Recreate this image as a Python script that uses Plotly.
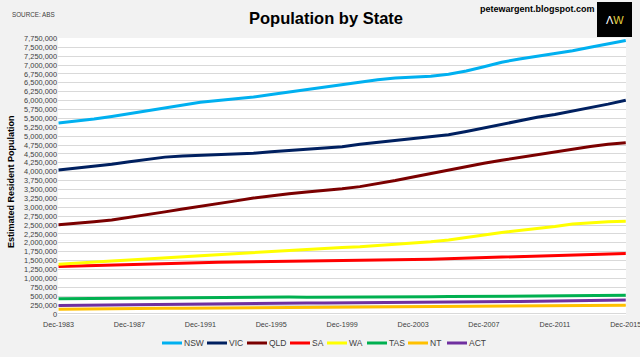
import plotly.graph_objects as go

years = list(range(1983, 2016))
dates = [f"{y}-12-01" for y in years]

nsw = [5372, 5420, 5480, 5550, 5630, 5720, 5810, 5890, 5955, 6000, 6045, 6100, 6170, 6240, 6310, 6375, 6440,
       6510, 6585, 6635, 6660, 6685, 6740, 6830, 6950, 7080, 7170, 7240, 7320, 7400, 7500, 7600, 7690]
vic = [4050, 4100, 4150, 4210, 4280, 4350, 4410, 4445, 4465, 4475, 4495, 4520, 4560, 4590, 4630, 4660, 4700,
       4770, 4820, 4880, 4920, 4970, 5040, 5130, 5230, 5350, 5450, 5530, 5610, 5700, 5800, 5900, 6010]
qld = [2505, 2540, 2590, 2640, 2710, 2790, 2870, 2950, 3020, 3100, 3180, 3260, 3330, 3380, 3430, 3470, 3520,
       3580, 3660, 3750, 3850, 3950, 4050, 4150, 4240, 4320, 4400, 4470, 4550, 4630, 4710, 4770, 4815]
sa = [1336, 1350, 1370, 1385, 1400, 1410, 1425, 1440, 1450, 1455, 1460, 1465, 1470, 1475, 1480, 1488, 1495,
      1505, 1512, 1520, 1530, 1540, 1555, 1570, 1590, 1610, 1630, 1645, 1660, 1672, 1682, 1692, 1702]
wa = [1395, 1420, 1450, 1490, 1520, 1550, 1590, 1620, 1650, 1680, 1700, 1730, 1760, 1790, 1820, 1850, 1870,
      1890, 1920, 1950, 1990, 2030, 2080, 2140, 2220, 2290, 2340, 2390, 2460, 2530, 2570, 2590, 2605]
tas = [428, 433, 438, 443, 447, 451, 455, 460, 466, 470, 472, 472, 473, 474, 472, 471, 472,
       473, 474, 477, 481, 485, 489, 493, 497, 502, 507, 510, 513, 515, 517, 519, 522]
nt = [135, 142, 148, 153, 156, 158, 160, 163, 166, 170, 173, 176, 180, 185, 189, 192, 195,
      198, 198, 198, 199, 201, 205, 210, 215, 221, 227, 230, 233, 238, 242, 244, 245]
act = [238, 244, 250, 256, 263, 270, 277, 283, 290, 295, 298, 302, 305, 308, 309, 310, 312,
       315, 318, 321, 323, 325, 328, 332, 337, 343, 350, 358, 365, 373, 380, 385, 392]

series = [("NSW", nsw, "#00B0F0"), ("VIC", vic, "#002060"), ("QLD", qld, "#7B0000"),
          ("SA", sa, "#FF0000"), ("WA", wa, "#FFFF00"), ("TAS", tas, "#00B050"),
          ("NT", nt, "#FFC000"), ("ACT", act, "#7030A0")]

tick_years = list(range(1983, 2016, 4))
tick_vals = [f"{y}-12-01" for y in tick_years]
tick_text = [f"Dec-{y}" for y in tick_years]

yticks = list(range(0, 7750001, 250000))
ytext = [f"{v:,}" for v in yticks]

FONT = "Liberation Sans, Arial"
W, H = 640, 357
ML, MR, MT, MB = 58, 14, 38, 42
plot_h = H - MT - MB
plot_w = W - ML - MR


def py(pix):
    return (H - MB - pix) / plot_h


def px(pix):
    return (pix - ML) / plot_w


fig = go.Figure()
for name, vals, col in series:
    fig.add_trace(go.Scatter(x=dates, y=[v * 1000 for v in vals], name=name, mode="lines",
                             line=dict(color=col, width=3), showlegend=False))

fig.update_layout(
    width=W, height=H,
    paper_bgcolor="#F2F2F2", plot_bgcolor="#FFFFFF",
    margin=dict(l=ML, r=MR, t=MT, b=MB, autoexpand=False),
    font=dict(family=FONT, size=7.2, color="#404040"),
    showlegend=False,
    xaxis=dict(type="date", range=["1983-11-20", "2015-12-06"], tickvals=tick_vals, ticktext=tick_text,
               showgrid=False, showline=False, zeroline=False, ticks="", tickfont=dict(size=7.2),
               ticklabeloverflow="allow", ticklabelstandoff=4),
    yaxis=dict(range=[-30000, 7760000], tickvals=yticks, ticktext=ytext, showgrid=True, gridcolor="#D9D9D9",
               gridwidth=1, zeroline=False, showline=False, ticks="", tickfont=dict(size=7.4),
               ticklabeloverflow="allow"),
)

# title, source, blog, y-axis title
fig.add_annotation(text="<b>Population by State</b>", x=px(326), y=py(18), xref="paper", yref="paper",
                   showarrow=False, yanchor="middle", font=dict(size=16.5, color="#000000", family=FONT))
fig.add_annotation(text="SOURCE: ABS", x=px(10), xanchor="left", y=py(15), yanchor="middle", xref="paper",
                   yref="paper", showarrow=False, font=dict(size=6.3, color="#404040", family=FONT))
fig.add_annotation(text="<b>petewargent.blogspot.com</b>", x=px(597), xanchor="right", y=py(9),
                   yanchor="middle", xref="paper", yref="paper", showarrow=False,
                   font=dict(size=9, color="#000000", family=FONT))
fig.add_annotation(text="<b>Estimated Resident Population</b>", x=px(11), y=py(182), xref="paper",
                   yref="paper", showarrow=False, textangle=-90, xanchor="center", yanchor="middle",
                   font=dict(size=9, color="#000000", family=FONT))

# AW logo
fig.add_shape(type="rect", xref="paper", yref="paper", x0=px(597), x1=px(632), y0=py(37), y1=py(2),
              fillcolor="#000000", line=dict(width=0), layer="above")
fig.add_annotation(text='<span style="color:#FFFFFF">Λ</span><span style="color:#E6D23C">W</span>',
                   x=px(614.5), y=py(20), xref="paper", yref="paper", showarrow=False,
                   xanchor="center", yanchor="middle", font=dict(size=11, family=FONT))

# manual legend
leg_x = [162, 207, 247, 290, 327, 367, 408, 447]
leg_y = 343
for (name, vals, col), lx in zip(series, leg_x):
    fig.add_shape(type="line", xref="paper", yref="paper", x0=px(lx), x1=px(lx + 20),
                  y0=py(leg_y), y1=py(leg_y), line=dict(color=col, width=3))
    fig.add_annotation(text=name, x=px(lx + 20), xanchor="left", y=py(leg_y), yanchor="middle",
                       xref="paper", yref="paper", showarrow=False,
                       font=dict(size=8.5, color="#404040", family=FONT))

fig.write_html("out.html", config={"displayModeBar": False},
               post_script="document.body.style.margin='0';document.body.style.overflow='hidden';")
